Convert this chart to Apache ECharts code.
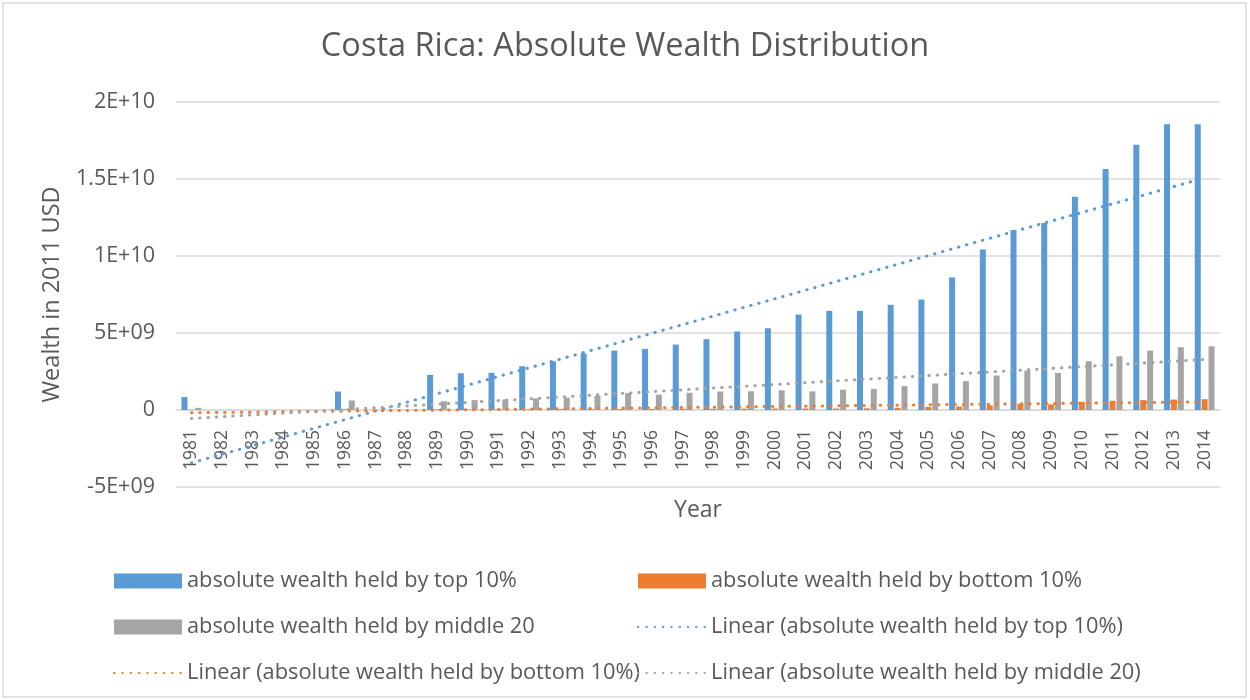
<!DOCTYPE html>
<html>
<head>
<meta charset="utf-8">
<script src="https://cdn.jsdelivr.net/npm/echarts@6/dist/echarts.min.js"></script>
<style>html,body{margin:0;padding:0;background:#fff}#c{width:1250px;height:700px}</style>
</head>
<body>
<div id="c"></div>
<script>
const years = ['1981','1982','1983','1984','1985','1986','1987','1988','1989','1990','1991','1992','1993','1994','1995','1996','1997','1998','1999','2000','2001','2002','2003','2004','2005','2006','2007','2008','2009','2010','2011','2012','2013','2014'];
const top10 = [0.84e9,null,null,null,null,1.2e9,null,null,2.28e9,2.39e9,2.41e9,2.84e9,3.17e9,3.67e9,3.86e9,3.97e9,4.25e9,4.6e9,5.1e9,5.31e9,6.2e9,6.44e9,6.44e9,6.83e9,7.17e9,8.6e9,10.42e9,11.69e9,12.15e9,13.84e9,15.65e9,17.23e9,18.55e9,18.55e9];
const bottom10 = [0.02e9,null,null,null,null,0.05e9,null,null,0.04e9,0.04e9,0.05e9,0.05e9,0.06e9,0.07e9,0.07e9,0.07e9,0.08e9,0.08e9,0.09e9,0.1e9,0.1e9,0.1e9,0.11e9,0.14e9,0.2e9,0.23e9,0.31e9,0.4e9,0.36e9,0.53e9,0.6e9,0.64e9,0.68e9,0.7e9];
const middle20 = [0.14e9,null,null,null,null,0.62e9,null,null,0.57e9,0.64e9,0.68e9,0.75e9,0.8e9,0.92e9,1.1e9,1.0e9,1.12e9,1.2e9,1.22e9,1.28e9,1.21e9,1.32e9,1.37e9,1.55e9,1.72e9,1.87e9,2.24e9,2.56e9,2.41e9,3.17e9,3.49e9,3.86e9,4.08e9,4.14e9];
// trendline end values (first year, last year)
const trendTop = [-3.43e9, 15.07e9];
const trendBottom = [-0.18e9, 0.53e9];
const trendMiddle = [-0.55e9, 3.28e9];
const yTickValues = [-5e9, 0, 5e9, 1e10, 1.5e10, 2e10];
const yTickLabels = ['-5E+09', '0', '5E+09', '1E+10', '1.5E+10', '2E+10'];

const names = {
  top: 'absolute wealth held by top 10%',
  bottom: 'absolute wealth held by bottom 10%',
  middle: 'absolute wealth held by middle 20',
  lTop: 'Linear (absolute wealth held by top 10%)',
  lBottom: 'Linear (absolute wealth held by bottom 10%)',
  lMiddle: 'Linear (absolute wealth held by middle 20)'
};
const FONT = 'Open Sans';
const TXT = '#595959';
const C_BLUE = '#5B9BD5', C_ORANGE = '#ED7D31', C_GRAY = '#A5A5A5';

function trendData(arr) {
  return [[years[0], arr[0]], [years[years.length - 1], arr[1]]];
}
function barSeries(name, data, color) {
  return { name, type: 'bar', data, barWidth: 6, barGap: '15%', itemStyle: { color }, z: 2 };
}
function lineSeries(name, arr, color) {
  return {
    name, type: 'line', data: trendData(arr), symbol: 'none', showSymbol: false, z: 5,
    lineStyle: { color, width: 3, type: [0.5, 7.8], cap: 'round' },
    itemStyle: { color }
  };
}
const legendText = { fontFamily: FONT, fontSize: 21.8, color: TXT };
const lineItem = n => ({ name: n, itemStyle: { opacity: 0 } });
const barItem = n => ({ name: n, icon: 'rect' });

const chart = echarts.init(document.getElementById('c'));
chart.setOption({
  animation: false,
  backgroundColor: '#fff',
  textStyle: { fontFamily: FONT },
  title: {
    text: 'Costa Rica: Absolute Wealth Distribution',
    left: 'center', top: 25,
    textStyle: { fontFamily: FONT, fontSize: 32.5, fontWeight: 'normal', color: TXT }
  },
  graphic: [{
    type: 'rect', shape: { x: 3, y: 3, width: 1243, height: 694 },
    style: { fill: 'none', stroke: '#d9d9d9', lineWidth: 1.5 }, silent: true
  }],
  legend: [{
    orient: 'vertical', left: 108, top: 565, itemWidth: 68, itemHeight: 15, itemGap: 24,
    textStyle: legendText,
    data: [barItem(names.top), barItem(names.middle), lineItem(names.lBottom)]
  }, {
    orient: 'vertical', left: 632, top: 565, itemWidth: 68, itemHeight: 15, itemGap: 24,
    textStyle: legendText,
    data: [barItem(names.bottom), lineItem(names.lTop), lineItem(names.lMiddle)]
  }],
  grid: { left: 176, right: 30, top: 102, bottom: 213, containLabel: false },
  xAxis: {
    type: 'category', data: years, offset: -77,
    axisLine: { onZero: false, lineStyle: { color: '#d9d9d9', width: 1.5 } },
    axisTick: { show: false },
    axisLabel: { rotate: 90, interval: 0, margin: 20, fontFamily: FONT, fontSize: 17.5, color: TXT },
    name: 'Year', nameLocation: 'middle', nameGap: 89,
    nameTextStyle: { fontFamily: FONT, fontSize: 23, color: TXT }
  },
  yAxis: {
    type: 'value', min: -5e9, max: 2e10, interval: 5e9,
    axisLine: { show: false }, axisTick: { show: false },
    splitLine: { lineStyle: { color: '#d9d9d9', width: 1.5 } },
    axisLabel: {
      margin: 21, fontFamily: FONT, fontSize: 21.5, color: TXT,
      formatter: v => { const i = yTickValues.findIndex(t => Math.abs(t - v) < 1); return i >= 0 ? yTickLabels[i] : ''; }
    },
    name: 'Wealth in 2011 USD', nameLocation: 'middle', nameGap: 112, nameRotate: 90,
    nameTextStyle: { fontFamily: FONT, fontSize: 23.5, color: TXT }
  },
  series: [
    barSeries(names.top, top10, C_BLUE),
    barSeries(names.bottom, bottom10, C_ORANGE),
    barSeries(names.middle, middle20, C_GRAY),
    lineSeries(names.lTop, trendTop, C_BLUE),
    lineSeries(names.lBottom, trendBottom, C_ORANGE),
    lineSeries(names.lMiddle, trendMiddle, C_GRAY)
  ]
});
</script>
</body>
</html>
